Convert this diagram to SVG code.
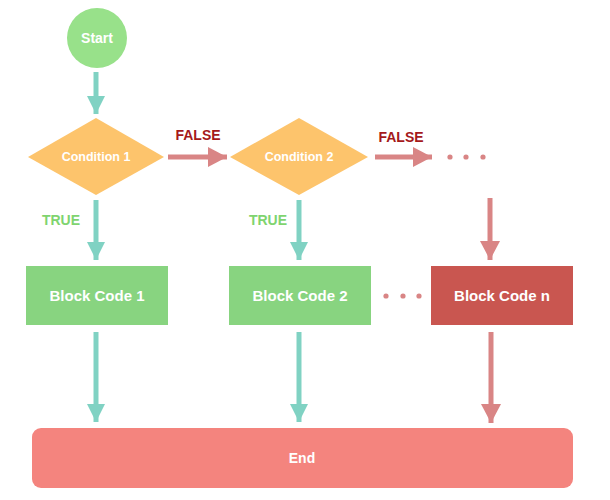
<svg xmlns="http://www.w3.org/2000/svg" width="610" height="500" viewBox="0 0 610 500">
<defs>
<marker id="ht" markerUnits="userSpaceOnUse" markerWidth="18" markerHeight="18" refX="18" refY="9" orient="auto"><path d="M0,0 L18,9 L0,18 z" fill="#80d2c3"/></marker>
<marker id="hr" markerUnits="userSpaceOnUse" markerWidth="20" markerHeight="20" refX="19" refY="10" orient="auto"><path d="M0,0 L19,10 L0,20 z" fill="#d98585"/></marker>
</defs>
<style>
text{font-family:"Liberation Sans",Arial,sans-serif;font-weight:bold;text-anchor:middle;dominant-baseline:central}
.w{fill:#ffffff}
.t{stroke:#80d2c3;stroke-width:5;fill:none;marker-end:url(#ht)}
.r{stroke:#d98585;stroke-width:5;fill:none;marker-end:url(#hr)}
.blk{fill:#88d480}
.dia{fill:#fdc46c}
.dot{fill:#d98585}
.lf{fill:#a5191b;font-size:14px}
.lt{fill:#7fd46f;font-size:14px}
</style>
<rect width="610" height="500" fill="#ffffff"/>
<g id="connectors">
<path class="t" d="M96,72 V114"/>
<path class="t" d="M96,200 V260"/>
<path class="t" d="M299,200 V260"/>
<path class="t" d="M96,332 V422"/>
<path class="t" d="M299,332 V422"/>
<path class="r" d="M168,157 H227"/>
<path class="r" d="M375,157 H432"/>
<path class="r" d="M490,198 V260"/>
<path class="r" d="M491,332 V423"/>
<text class="lf" x="198" y="135">FALSE</text>
<text class="lf" x="401" y="137">FALSE</text>
<text class="lt" x="61" y="220">TRUE</text>
<text class="lt" x="268" y="220">TRUE</text>
<circle class="dot" cx="450" cy="157" r="2.6"/>
<circle class="dot" cx="466" cy="157" r="2.6"/>
<circle class="dot" cx="483" cy="157" r="2.6"/>
<circle class="dot" cx="386" cy="296" r="2.6"/>
<circle class="dot" cx="403" cy="296" r="2.6"/>
<circle class="dot" cx="419" cy="296" r="2.6"/>
</g>
<g id="start">
<circle cx="97" cy="38" r="30" fill="#98e18a"/>
<text class="w" x="97" y="38" font-size="14">Start</text>
</g>
<g id="cond1">
<polygon class="dia" points="96,118 164,157 96,195 28,157"/>
<text class="w" x="96" y="157" font-size="12.5">Condition 1</text>
</g>
<g id="cond2">
<polygon class="dia" points="299,118 368,157 299,195 230,157"/>
<text class="w" x="299" y="157" font-size="12.5">Condition 2</text>
</g>
<g id="block1">
<rect class="blk" x="26" y="266" width="142" height="59"/>
<text class="w" x="97" y="295.5" font-size="15">Block Code 1</text>
</g>
<g id="block2">
<rect class="blk" x="229" y="266" width="142" height="59"/>
<text class="w" x="300" y="295.5" font-size="15">Block Code 2</text>
</g>
<g id="blockn">
<rect x="431" y="266" width="142" height="59" fill="#c95650"/>
<text class="w" x="502" y="295.5" font-size="15">Block Code n</text>
</g>
<g id="end">
<rect x="32" y="428" width="541" height="60" rx="9" fill="#f4847e"/>
<text class="w" x="302" y="458" font-size="14">End</text>
</g>
</svg>
